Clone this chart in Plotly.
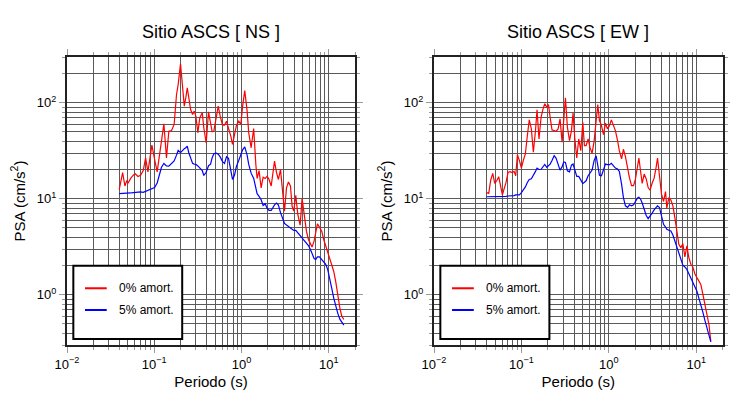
import plotly.graph_objects as go
from plotly.subplots import make_subplots

# ---------------- data ----------------
PERIODS_NS = [0.0397,0.0434,0.0461,0.0482,0.0504,0.0536,0.0575,0.0606,0.065,0.0697,0.0748,0.0796,0.0846,0.0892,0.094,
              0.101,0.108,0.114,0.121,0.129,0.138,0.147,0.158,0.169,0.18,0.188,0.2,0.211,0.221,0.23,0.239,0.249,0.261,
              0.275,0.287,0.3,0.316,0.333,0.355,0.37,0.394,0.419,0.442,0.461,0.482,0.508,0.541,0.57,0.606,0.639,0.673,
              0.71,0.755,0.789,0.831,0.876,0.932,0.983,1.03,1.09,1.16,1.21,1.29,1.38,1.46,1.51,1.59,1.68,1.77,1.87,
              1.97,2.07,2.19,2.3,2.39,2.52,2.65,2.8,2.95,3.11,3.28,3.45,3.64,3.8,3.97,4.19,4.42,4.7,4.95,5.22,5.55,
              5.85,6.17,6.44,6.79,7.1,7.42,7.82,8.31,8.76,9.24,9.74,10.3,10.8,11.4,12,12.7,13.4,14.1,14.9]
PSA_NS_0 = [12.5,18.7,13.6,15.3,14.7,16.3,17.6,18.2,17.1,17.6,19.7,26.7,19.1,
            27.2,36.2,25.7,19.1,27.2,39.2,60.4,26.7,50.7,51.5,59.5,122,155,
            255,143,92.3,113,143,113,85.2,75.6,81.9,72.6,48.7,69.8,78.7,
            54.9,38.3,80.6,61.9,49.9,50.7,69.8,92.3,72.6,58.5,58.5,64.4,54,
            45,36.8,47.5,58.5,64.4,59.5,92.3,134,81.9,48.7,34,54,22.8,
            16.3,19.7,13,16.8,16.3,17.2,15.9,13.6,17.9,24.7,18.7,15.9,20.2,
            11.1,7.44,13,15,13.6,8.39,7.44,10.9,6.87,5.32,10.1,6.87,4.6,
            3.77,3.34,3.14,3.62,4.42,5.49,5.07,4.6,3.77,3.21,2.74,2.39,2.07,
            1.76,1.39,0.931,0.732,0.599,0.553]
PSA_NS_5 = [11.3,11.3,11.4,11.5,11.5,11.5,11.6,11.7,11.8,11.8,11.7,12,12.2,
            12.4,12.6,13.1,14.6,17.9,21.3,23.3,22,21.9,23.3,24.8,28.5,31.9,
            30.2,32,33.3,34,35.3,30.2,26,23.4,23,22.9,22,21,19.7,
            17.5,18.9,22.1,22.9,26.8,29.4,30.1,29.2,27.3,24.4,23.4,27.4,26.4,
            19.5,15.9,17.6,21.9,25.2,28.5,32.4,34.7,28.5,22.8,18.5,16.3,12.8,
            11.3,10.6,9.76,8.52,8.87,7.93,7.56,7.56,8.19,8.64,9.01,8.59,7.17,
            6.16,5.55,5.33,5.12,4.92,4.77,4.68,4.68,4.42,4.14,3.89,3.71,3.49,
            3.26,2.97,2.68,2.39,2.34,2.48,2.49,2.32,2.24,2.08,1.83,1.5,1.18,
            0.931,0.751,0.641,0.558,0.513,0.483]

PERIODS_EW = [0.0401,0.0423,0.0446,0.047,0.0495,0.0522,0.055,0.058,0.0606,0.0633,0.0667,0.0704,0.0742,
              0.0782,0.0824,0.0861,0.09,0.0949,0.1,0.105,0.111,0.117,0.123,0.13,0.137,0.145,
              0.151,0.159,0.168,0.177,0.185,0.195,0.204,0.213,0.224,0.237,0.249,0.263,0.277,
              0.292,0.305,0.319,0.336,0.355,0.374,0.39,0.408,0.43,0.453,0.478,0.504,0.526,
              0.55,0.58,0.611,0.644,0.679,0.716,0.748,0.782,0.824,0.869,0.916,0.965,1.02,
              1.07,1.13,1.19,1.26,1.32,1.4,1.47,1.55,1.64,1.72,1.82,1.92,2.02,
              2.13,2.21,2.32,2.41,2.54,2.68,2.82,2.97,3.13,3.3,3.48,3.61,3.8,
              4.01,4.23,4.46,4.61,4.86,5.13,5.41,5.7,6.01,6.33,6.67,7.04,7.42,
              7.82,8.24,8.69,9.16,9.65,10.2,10.7,11.3,11.9,12.6,13.2,14,14.7]
PSA_EW_0 = [11.6,11.4,15.7,18.4,14.5,15.4,17,13.1,11,12.6,14.8,18.8,19.2,
            18.8,19.3,17.4,28.8,25,20.9,25,29.3,45.6,66.4,53.5,30.5,51.4,
            84.5,42,70.8,86.6,97.6,90.1,96.1,70.8,52.2,51.4,50.6,53.5,68,
            38.8,70.8,113,55.7,40.4,51.4,78,43.1,26.6,42,31.7,62.8,35.8,
            35.8,42,33.9,29.8,39.7,60.3,96.1,65.4,58,46.7,61.3,53.5,58,
            66.4,58,51.4,40.4,31.7,26,32.8,27.5,20.4,16.7,13.7,13.7,16.1,
            21.3,26.6,18.8,14.5,18.1,16.1,13.1,12.3,14.5,16.4,21.3,26.6,17.4,
            11.2,9.38,11.9,7.99,10.3,9.68,8.45,6.38,4.63,3.36,3.1,3.41,2.48,
            3.23,2.44,2.08,1.95,1.66,1.51,1.41,1.28,1.02,0.792,0.648,0.49,0.328]
PSA_EW_5 = [10.5,10.5,10.5,10.5,10.5,10.6,10.6,10.6,10.6,10.6,10.6,10.7,10.7,
            10.7,10.8,11,11,11,11.6,12.3,13.3,14.8,15.9,16.2,17.4,19.3,20.9,
            20.2,20.3,21.8,22.8,21.3,22,23,25.1,28.1,26.6,23.2,19.9,21.5,24.2,
            23.9,19.6,19.1,22.4,23,20.3,17.1,17.1,15.7,14.4,14.9,15.4,17.4,18.4,
            19.9,25,28.1,22.3,17.6,17.4,19.9,23,22.7,22.7,23.4,22.1,20.9,20.4,
            19.3,14.2,10.3,8.45,8.12,8.66,8.45,8.66,9.38,10.2,10.4,9.84,9.03,
            7.74,6.71,6.21,6.55,7.1,7.65,8.14,8.45,8.12,6.64,5.42,5.08,4.82,
            4.7,4.63,4.2,3.64,3.1,2.6,2.25,2.04,1.95,1.84,1.66,1.51,1.33,1.23,
            1.09,0.93,0.792,0.664,0.539,0.452,0.361,0.323]

TITLES = ["Sitio ASCS [ NS ]", "Sitio ASCS [ EW ]"]
SERIES_NAMES = ["0% amort.", "5% amort."]
SERIES_COLORS = ["#ff0000", "#0000ff"]
X_TICKVALS = [0.01, 0.1, 1, 10]
X_TICKTEXT = ["10<sup>−2</sup>", "10<sup>−1</sup>", "10<sup>0</sup>", "10<sup>1</sup>"]
Y_TICKVALS = [1, 10, 100]
Y_TICKTEXT = ["10<sup>0</sup>", "10<sup>1</sup>", "10<sup>2</sup>"]

FONT = "Liberation Sans"
GRID = "#5a5a5a"

x_minor = [k * 10.0 ** e for e in range(-2, 2) for k in range(2, 10)]
y_minor = [k * 10.0 ** e for e in range(-1, 3) for k in range(2, 10)]

fig = make_subplots(rows=1, cols=2, horizontal_spacing=0.1)

data = [(PERIODS_NS, [PSA_NS_0, PSA_NS_5]), (PERIODS_EW, [PSA_EW_0, PSA_EW_5])]
for c, (per, series) in enumerate(data, start=1):
    for name, col, vals in zip(SERIES_NAMES, SERIES_COLORS, series):
        fig.add_trace(go.Scatter(x=per, y=vals, mode="lines", name=name,
                                 line=dict(color=col, width=1.2), showlegend=False), row=1, col=c)

xdom = [[67 / 730, 355 / 730], [434 / 730, 722.5 / 730]]
ydom = [1 - 345 / 400, 1 - 57 / 400]

axis_common = dict(type="log", showline=True, linecolor="#222222", linewidth=2, mirror="allticks",
                   showgrid=True, gridcolor=GRID, gridwidth=0.8, zeroline=False, automargin=False,
                   ticks="outside", ticklen=6, tickcolor="#9a9a9a", tickwidth=1,
                   tickfont=dict(family=FONT, size=13, color="black"))

for c in (1, 2):
    fig.update_xaxes(row=1, col=c, domain=xdom[c - 1], range=[-2, 1.301],
                     tickmode="array", tickvals=X_TICKVALS, ticktext=X_TICKTEXT,
                     minor=dict(tickmode="array", tickvals=x_minor, ticks="outside", ticklen=3,
                                tickcolor="#9a9a9a", showgrid=True, gridcolor=GRID, gridwidth=0.8),
                     title=dict(text="Periodo (s)", font=dict(family=FONT, size=15, color="black"), standoff=6),
                     **axis_common)
    fig.update_yaxes(row=1, col=c, domain=ydom, range=[-0.5229, 2.4771],
                     tickmode="array", tickvals=Y_TICKVALS, ticktext=Y_TICKTEXT,
                     minor=dict(tickmode="array", tickvals=y_minor, ticks="outside", ticklen=3,
                                tickcolor="#9a9a9a", showgrid=True, gridcolor=GRID, gridwidth=0.8),
                     title=dict(text="PSA (cm/s<sup>2</sup>)", font=dict(family=FONT, size=15, color="black"), standoff=8),
                     **axis_common)

# titles and legends
for c in (1, 2):
    xd = "x domain" if c == 1 else "x2 domain"
    yd = "y domain" if c == 1 else "y2 domain"
    fig.add_annotation(text=TITLES[c - 1], x=0.5, y=1.0, xref=xd, yref=yd, yshift=25,
                       showarrow=False, xanchor="center", yanchor="middle",
                       font=dict(family=FONT, size=18, color="black"))
    fig.add_shape(type="rect", xref=xd, yref=yd, x0=0.022, x1=0.400, y0=0.021, y1=0.275,
                  line=dict(color="black", width=2), fillcolor="white", layer="above")
    for i, (name, col) in enumerate(zip(SERIES_NAMES, SERIES_COLORS)):
        yy = 0.197 - i * 0.0755
        fig.add_shape(type="line", xref=xd, yref=yd, x0=0.0625, x1=0.138, y0=yy, y1=yy,
                      line=dict(color=col, width=2), layer="above")
        fig.add_annotation(text=name, x=0.174, y=yy, xref=xd, yref=yd, showarrow=False,
                           xanchor="left", yanchor="middle",
                           font=dict(family=FONT, size=12, color="black"))

fig.update_layout(width=730, height=400, margin=dict(l=0, r=0, t=0, b=0),
                  paper_bgcolor="white", plot_bgcolor="white", showlegend=False,
                  font=dict(family=FONT, color="black"))
fig.write_html("out.html", config={"displayModeBar": False},
               post_script="document.body.style.margin='0px';")
